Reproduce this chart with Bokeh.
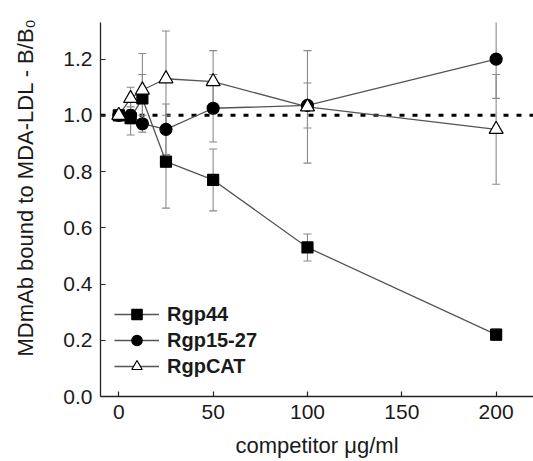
from bokeh.plotting import figure
from bokeh.models import (Whisker, TeeHead, ColumnDataSource, Span, Legend,
                          LegendItem, FixedTicker, NumeralTickFormatter, Range1d)
from bokeh.embed import file_html
from bokeh.resources import INLINE

# competitor concentration (ug/ml)
conc = [0, 6.25, 12.5, 25, 50, 100, 200]

# series values (B/B0) and error bars
rgp44 = [1.00, 0.99, 1.06, 0.835, 0.77, 0.53, 0.22]
rgp44_err = [0.0, 0.06, 0.085, 0.165, 0.11, 0.048, 0.02]
rgp1527 = [1.00, 1.00, 0.97, 0.95, 1.025, 1.035, 1.20]
rgp1527_err = [0.0, 0.03, 0.03, 0.09, 0.12, 0.08, 0.14]
rgpcat = [1.00, 1.06, 1.09, 1.13, 1.12, 1.03, 0.95]
rgpcat_err = [0.0, 0.04, 0.13, 0.17, 0.11, 0.20, 0.195]

series_names = ["Rgp44", "Rgp15-27", "RgpCAT"]
x_ticks = [0, 50, 100, 150, 200]
y_ticks = [0.0, 0.2, 0.4, 0.6, 0.8, 1.0, 1.2]
reference_level = 1.0

FONT = "Liberation Sans"

p = figure(width=533, height=461,
           x_range=Range1d(-9.7, 219.8), y_range=Range1d(0, 1.33),
           output_backend="svg", toolbar_location=None,
           min_border_left=100, min_border_right=0,
           min_border_top=22, min_border_bottom=65)
p.grid.visible = False
p.outline_line_color = None
p.background_fill_color = "white"
p.border_fill_color = "white"

for ax in (p.xaxis[0], p.yaxis[0]):
    ax.major_tick_in = 5
    ax.major_tick_out = 0
    ax.minor_tick_line_color = None
    ax.axis_line_color = "#222222"
    ax.axis_line_width = 1.3
    ax.major_tick_line_color = "#222222"
    ax.major_tick_line_width = 1.2
    ax.major_label_text_font = FONT
    ax.major_label_text_font_size = "21px"
    ax.major_label_text_color = "#1a1a1a"
    ax.axis_label_text_font = FONT
    ax.axis_label_text_font_size = "22px"
    ax.axis_label_text_font_style = "normal"
    ax.axis_label_text_color = "#1a1a1a"
    ax.major_label_standoff = 8

p.xaxis.ticker = FixedTicker(ticks=x_ticks)
p.yaxis.ticker = FixedTicker(ticks=y_ticks)
p.yaxis.formatter = NumeralTickFormatter(format="0.0")
p.xaxis.axis_label = "competitor \u03bcg/ml"
p.yaxis.axis_label = "\u2003\u2003MDmAb bound to MDA-LDL - B/B\u2080"
p.xaxis.axis_label_standoff = 11
p.yaxis.axis_label_standoff = 22

# dotted reference line at B/B0 = 1
p.add_layout(Span(location=reference_level, dimension="width", line_color="black",
                  line_width=3, line_dash="5 8", level="underlay"))

styles = [
    dict(marker="square", size=11, fill_color="black"),
    dict(marker="circle", size=12, fill_color="black"),
    dict(marker="triangle", size=14, fill_color="white"),
]
values = [rgp44, rgp1527, rgpcat]
errors = [rgp44_err, rgp1527_err, rgpcat_err]

items = []
line_rs = []
for name, ys, es, st in zip(series_names, values, errors, styles):
    src = ColumnDataSource(data=dict(
        x=conc, y=ys,
        lo=[y - e for y, e in zip(ys, es)],
        hi=[y + e for y, e in zip(ys, es)]))
    w = Whisker(source=src, base="x", lower="lo", upper="hi", dimension="height",
                line_color="#8a8a8a", line_width=1.1, level="underlay",
                upper_head=TeeHead(size=8, line_color="#8a8a8a", line_width=1.1),
                lower_head=TeeHead(size=8, line_color="#8a8a8a", line_width=1.1))
    p.add_layout(w)
    lr = p.line("x", "y", source=src, line_color="#555555", line_width=1.3)
    line_rs.append((name, lr, src, st))

for name, lr, src, st in line_rs:
    sr = p.scatter("x", "y", source=src, marker=st["marker"], size=st["size"],
                   fill_color=st["fill_color"], line_color="black", line_width=1.2)
    items.append(LegendItem(label=name, renderers=[lr, sr]))

legend = Legend(items=items, location=(14, 17), padding=0, margin=0,
                border_line_color=None, background_fill_alpha=0,
                glyph_width=45, glyph_height=26, label_height=26, spacing=0,
                label_standoff=8, label_text_font=FONT, label_text_font_size="20px",
                label_text_font_style="bold", label_text_color="#1a1a1a")
p.add_layout(legend)

open("out.html", "w").write(file_html(p, INLINE))
